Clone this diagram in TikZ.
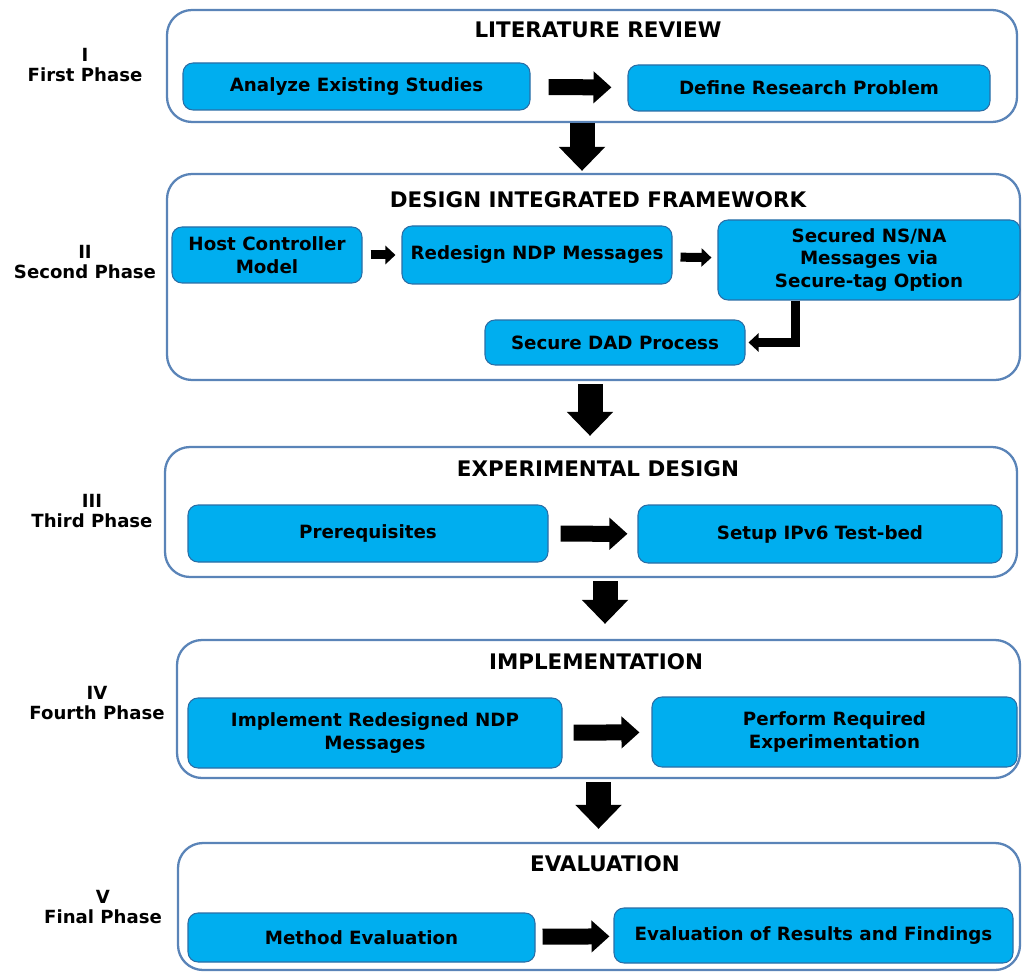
\documentclass[tikz,border=0pt]{standalone}
\usepackage{fontspec}
\setmainfont{DejaVu Sans}
\usetikzlibrary{arrows.meta, positioning, calc}
\definecolor{boxfill}{HTML}{00AEEF}
\definecolor{boxline}{HTML}{2A6EA6}
\definecolor{phaseline}{HTML}{5A84B8}

\begin{document}
\begin{tikzpicture}[
    phase/.style={draw=phaseline, line width=1.3pt, rounded corners=0.5cm, fill=white},
    task/.style={draw=boxline, line width=0.6pt, rounded corners=0.2cm, fill=boxfill, align=center, font=\fontsize{10.4}{13}\selectfont\bfseries},
    heading/.style={font=\fontsize{12.2}{14}\selectfont\bfseries},
    stage/.style={align=center, font=\fontsize{10.3}{11.5}\selectfont\bfseries},
    bigright/.style={line width=0.32cm, -{Triangle[length=0.36cm, width=0.62cm]}},
    bigdown/.style={line width=0.5cm, -{Triangle[length=0.48cm, width=0.9cm]}},
    smallright/.style={line width=0.18cm, -{Triangle[length=0.2cm, width=0.36cm]}}
]
    \useasboundingbox (0,0) rectangle (20.46,-19.46);

    \node[phase, minimum width=17cm, minimum height=2.24cm] (c1) at (11.84, -1.32) {};
    \node[phase, minimum width=17.06cm, minimum height=4.12cm] (c2) at (11.87, -5.54) {};
    \node[phase, minimum width=17.04cm, minimum height=2.6cm] (c3) at (11.82, -10.24) {};
    \node[phase, minimum width=16.86cm, minimum height=2.76cm] (c4) at (11.97, -14.18) {};
    \node[phase, minimum width=16.84cm, minimum height=2.54cm] (c5) at (11.98, -18.13) {};

    \node[heading] (t1) at (11.96, -0.6) {LITERATURE REVIEW};
    \node[heading] (t2) at (11.96, -4.0) {DESIGN INTEGRATED FRAMEWORK};
    \node[heading] (t3) at (11.96, -9.38) {EXPERIMENTAL DESIGN};
    \node[heading] (t4) at (11.92, -13.24) {IMPLEMENTATION};
    \node[heading] (t5) at (12.1, -17.28) {EVALUATION};

    \node[stage] (s1) at (1.7, -1.3) {I\\First Phase};
    \node[stage] (s2) at (1.7, -5.24) {II\\Second Phase};
    \node[stage] (s3) at (1.84, -10.22) {III\\Third Phase};
    \node[stage] (s4) at (1.94, -14.06) {IV\\Fourth Phase};
    \node[stage] (s5) at (2.06, -18.14) {V\\Final Phase};

    \node[task, minimum width=6.94cm, minimum height=0.94cm] (a1) at (7.13, -1.73) {Analyze Existing Studies};
    \node[task, minimum width=7.24cm, minimum height=0.92cm] (a2) at (16.18, -1.76) {Define Research Problem};

    \node[task, minimum width=3.8cm, minimum height=1.12cm] (b1) at (5.34, -5.1) {Host Controller\\Model};
    \node[task, minimum width=5.4cm, minimum height=1.16cm] (b2) at (10.74, -5.1) {Redesign NDP Messages};
    \node[task, minimum width=6.04cm, minimum height=1.6cm] (b3) at (17.38, -5.2) {Secured NS/NA\\Messages via\\Secure-tag Option};
    \node[task, minimum width=5.2cm, minimum height=0.9cm] (b4) at (12.3, -6.85) {Secure DAD Process};

    \node[task, minimum width=7.2cm, minimum height=1.14cm] (d1) at (7.36, -10.67) {Prerequisites};
    \node[task, minimum width=7.28cm, minimum height=1.16cm] (d2) at (16.4, -10.68) {Setup IPv6 Test-bed};

    \node[task, minimum width=7.48cm, minimum height=1.4cm] (e1) at (7.5, -14.66) {Implement Redesigned NDP\\Messages};
    \node[task, minimum width=7.3cm, minimum height=1.4cm] (e2) at (16.69, -14.64) {Perform Required\\Experimentation};

    \node[task, minimum width=6.94cm, minimum height=0.98cm] (f1) at (7.23, -18.75) {Method Evaluation};
    \node[task, minimum width=7.98cm, minimum height=1.1cm] (f2) at (16.27, -18.71) {Evaluation of Results and Findings};

    \draw[bigright, shorten <=0.36cm, shorten >=0.32cm] (a1) -- (a2);
    \draw[smallright, shorten <=0.16cm, shorten >=0.12cm] (b1) -- (b2);
    \draw[smallright, shorten <=0.16cm, shorten >=0.12cm] (b2) -- (b3);
    \draw[smallright, shorten >=0.06cm] ([xshift=-1.48cm]b3.south) |- (b4.east);
    \draw[bigright, shorten <=0.24cm, shorten >=0.2cm] (d1) -- (d2);
    \draw[bigright, shorten <=0.22cm, shorten >=0.24cm] (e1) -- (e2);
    \draw[bigright, shorten <=0.14cm, shorten >=0.08cm] (f1) -- (f2);

    \draw[bigdown, shorten >=0.04cm] ([xshift=-0.2cm]c1.south) -- ([xshift=-0.2cm]c1.south |- c2.north);
    \draw[bigdown, shorten <=0.06cm, shorten >=0.2cm] ([xshift=-0.07cm]c2.south) -- ([xshift=-0.07cm]c2.south |- c3.north);
    \draw[bigdown, shorten <=0.06cm, shorten >=0.3cm] ([xshift=0.28cm]c3.south) -- ([xshift=0.28cm]c3.south |- c4.north);
    \draw[bigdown, shorten <=0.06cm, shorten >=0.26cm] (c4.south) -- (c4.south |- c5.north);
\end{tikzpicture}
\end{document}
